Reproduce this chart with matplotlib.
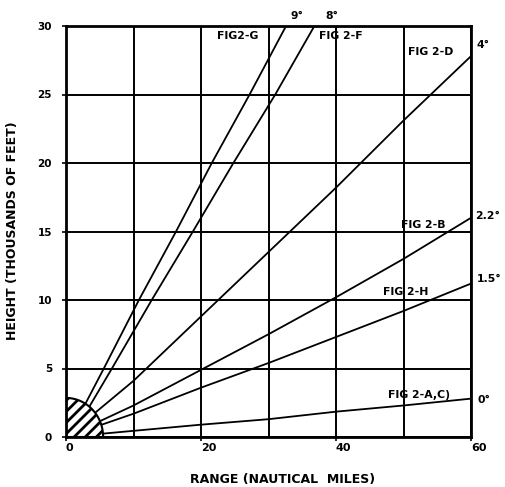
import numpy as np
import matplotlib
matplotlib.use("Agg")
import matplotlib.pyplot as plt
from matplotlib.patches import Polygon

# ---- data ----
range_pts = [0, 10, 20, 30, 40, 50, 60]
h_0deg = [0.0, 0.45, 0.9, 1.3, 1.85, 2.3, 2.8]
h_1_5deg = [0.0, 1.7, 3.6, 5.4, 7.3, 9.2, 11.2]
h_2_2deg = [0.0, 2.3, 4.9, 7.5, 10.2, 13.0, 16.0]
h_4deg = [0.0, 4.1, 8.8, 13.5, 18.2, 23.1, 27.8]

steep_heights = [0, 5, 10, 15, 20, 25, 30]
range_9deg = [0.3, 5.6, 10.8, 16.3, 21.6, 27.2, 32.6]
range_8deg = [0.8, 6.8, 12.7, 18.8, 24.8, 31.0, 36.8]

xticks = [0, 20, 40, 60]
yticks = [0, 5, 10, 15, 20, 25, 30]
xgrid = [0, 10, 20, 30, 40, 50, 60]

# hatched region radii (nautical miles, thousands of feet)
zone_rx = 5.5
zone_ry = 2.85

fig_labels = [
    ("FIG2-G", 22.4, 29.3),
    ("FIG 2-F", 37.5, 29.3),
    ("FIG 2-D", 50.7, 28.1),
    ("FIG 2-B", 49.6, 15.5),
    ("FIG 2-H", 47.0, 10.6),
    ("FIG 2-A,C)", 47.7, 3.1),
]
angle_labels = [
    ("9°", 33.3, 30.75),
    ("8°", 38.4, 30.75),
    ("4°", 60.8, 28.6),
    ("2.2°", 60.6, 16.1),
    ("1.5°", 60.9, 11.5),
    ("0°", 61.0, 2.7),
]

# ---- figure ----
plt.rcParams["hatch.linewidth"] = 2.0
fig = plt.figure(figsize=(5.06, 4.87), dpi=100)
ax = fig.add_axes([66 / 506, 50 / 487, 405 / 506, 411 / 487])
ax.set_xlim(0, 60)
ax.set_ylim(0, 30)

for gx in xgrid:
    ax.axvline(gx, color="black", lw=1.4, zorder=1)
for gy in yticks:
    ax.axhline(gy, color="black", lw=1.4, zorder=1)

lw = 1.3
for h in (h_0deg, h_1_5deg, h_2_2deg, h_4deg):
    ax.plot(range_pts, h, color="black", lw=lw, zorder=2, solid_capstyle="butt")
ax.plot(range_9deg, steep_heights, color="black", lw=lw, zorder=2)
ax.plot(range_8deg, steep_heights, color="black", lw=lw, zorder=2)

t = np.linspace(0, np.pi / 2, 60)
verts = [(0, 0)] + list(zip(zone_rx * np.cos(t), zone_ry * np.sin(t))) + [(0, 0)]
poly = Polygon(verts, closed=True, facecolor="white", edgecolor="black",
               lw=1.5, hatch="///", zorder=3)
ax.add_patch(poly)

for s in ax.spines.values():
    s.set_linewidth(2.0)
    s.set_zorder(5)

ax.set_xticks(xticks)
ax.set_yticks(yticks)
ax.tick_params(axis="both", length=3, width=1.2, colors="black")
ax.tick_params(axis="x", pad=1.5)
ax.tick_params(axis="y", pad=7)
for lab in ax.get_xticklabels():
    lab.set_fontfamily("DejaVu Sans")
    lab.set_fontweight("bold")
    lab.set_fontsize(8)
    lab.set_ha("left")
for lab in ax.get_yticklabels():
    lab.set_fontfamily("DejaVu Sans")
    lab.set_fontweight("bold")
    lab.set_fontsize(7.5)

tfont = dict(fontfamily="DejaVu Sans", fontweight="bold", fontsize=7.8, color="black")
for txt, x, y in fig_labels:
    ax.text(x, y, txt, ha="left", va="center", zorder=6, clip_on=False, **tfont)
for txt, x, y in angle_labels:
    ax.text(x, y, txt, ha="left", va="center", zorder=6, clip_on=False, **tfont)

fig.text(283 / 506, 1 - 480 / 487, "RANGE (NAUTICAL  MILES)", ha="center", va="center",
         fontfamily="DejaVu Sans", fontweight="bold", fontsize=9)
fig.text(13 / 506, 1 - 231 / 487, "HEIGHT (THOUSANDS OF FEET)", ha="center", va="center",
         rotation=90, fontfamily="DejaVu Sans", fontweight="bold", fontsize=9)

fig.savefig("out.png", dpi=100, facecolor="white")
